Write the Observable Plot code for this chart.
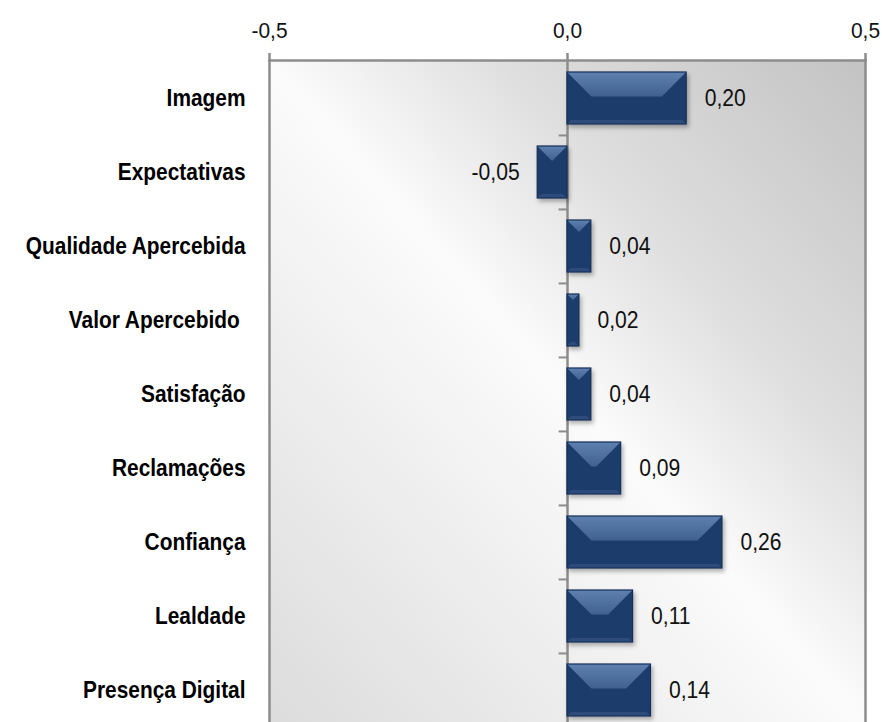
<!DOCTYPE html>
<html><head><meta charset="utf-8">
<script src="https://cdn.jsdelivr.net/npm/d3@7"></script>
<script src="https://cdn.jsdelivr.net/npm/@observablehq/plot@0.6"></script>
<style>body{margin:0;background:#fff;overflow:hidden}</style>
</head><body><div id="chart"></div>
<script>
const categories = ["Imagem","Expectativas","Qualidade Apercebida","Valor Apercebido ","Satisfação","Reclamações","Confiança","Lealdade","Presença Digital"];
const values = [0.20,-0.05,0.04,0.02,0.04,0.09,0.26,0.11,0.14];
const xTicks = [-0.5, 0, 0.5];

const data = categories.map((c,i)=>({cat:c, value:values[i]}));
const fmt = d => d.toFixed(2).replace(".", ",");
const FONT = '"Liberation Sans",Arial,sans-serif';
const W = 882, H = 722, yTop = 60, yBot = 727;
const step = (yBot - yTop) / categories.length;
const NS = "http://www.w3.org/2000/svg";

function bevel(index, scales, vals, dimensions, context, next) {
  const g = next(index, scales, vals, dimensions, context);
  g.setAttribute("filter", "url(#shadow)");
  const rects = Array.from(g.querySelectorAll("rect"));
  for (const r of rects) {
    const x = +r.getAttribute("x"), y = +r.getAttribute("y");
    const w = +r.getAttribute("width"), h = +r.getAttribute("height");
    const b = Math.min(h * 0.47, w / 2);
    const s = Math.min(4, w / 2);
    const top = document.createElementNS(NS, "polygon");
    top.setAttribute("points", `${x},${y} ${x+w},${y} ${x+w-b},${y+b} ${x+b},${y+b}`);
    top.setAttribute("fill", "url(#topGrad)");
    top.setAttribute("stroke", "none");
    const bot = document.createElementNS(NS, "polygon");
    bot.setAttribute("points", `${x},${y+h} ${x+w},${y+h} ${x+w-s},${y+h-s} ${x+s},${y+h-s}`);
    bot.setAttribute("fill", "#2d4c7c");
    bot.setAttribute("stroke", "none");
    const edge = document.createElementNS(NS, "rect");
    for (const a of ["x","y","width","height"]) edge.setAttribute(a, r.getAttribute(a));
    edge.setAttribute("fill", "none");
    edge.setAttribute("stroke", "#152f57");
    edge.setAttribute("stroke-width", "1.2");
    g.appendChild(top); g.appendChild(bot); g.appendChild(edge);
  }
  return g;
}

const chart = Plot.plot({
  width: W, height: H,
  marginLeft: 269, marginRight: 17, marginTop: yTop, marginBottom: 0,
  style: {fontFamily: FONT, background: "#fff", overflow: "hidden"},
  x: {domain: [-0.5, 0.5], range: [269, 865], label: null},
  y: {domain: categories, range: [yTop, yBot], paddingInner: 0.3, paddingOuter: 0.15, label: null},
  marks: [
    Plot.frame({fill: "url(#bg)", stroke: null}),
    Plot.frame({anchor: "left", stroke: "#8c8c8c", strokeWidth: 2.5}),
    Plot.frame({anchor: "right", stroke: "#8c8c8c", strokeWidth: 2.5}),
    Plot.ruleX([0], {stroke: "#8c8c8c", strokeWidth: 2.5}),
    Plot.ruleY(categories.slice(1), {y: d => d, x1: -0.014, x2: 0, dy: -step/2, stroke: "#8c8c8c", strokeWidth: 2}),
    Plot.barX(data, {y: "cat", x1: 0, x2: "value", fill: "#1f3d6c", render: bevel}),
    Plot.text(data.filter(d => d.value >= 0), {y: "cat", x: "value", text: d => fmt(d.value), dx: 18, textAnchor: "start", fontSize: 24, fill: "#111", className: "vals"}),
    Plot.text(data.filter(d => d.value < 0), {y: "cat", x: "value", text: d => fmt(d.value), dx: -18, textAnchor: "end", fontSize: 24, fill: "#111", className: "vals"}),
    Plot.axisX(xTicks, {anchor: "top", label: null, tickFormat: d => d.toFixed(1).replace(".", ","), tickSize: 8, tickPadding: 15, fontSize: 22, stroke: "#8c8c8c", strokeWidth: 2.5, fill: "#111", className: "ticks"}),
    Plot.frame({anchor: "top", stroke: "#8c8c8c", strokeWidth: 2.5}),
    Plot.axisY({anchor: "left", label: null, tickSize: 0, tickPadding: 24, fontSize: 24, fontWeight: "bold", fill: "#000", className: "cats"})
  ]
});
chart.insertAdjacentHTML("afterbegin", `<defs>
<linearGradient id="bg" x1="1" y1="0" x2="0" y2="1">
<stop offset="0" stop-color="#c3c3c3"/><stop offset="0.3" stop-color="#dedede"/>
<stop offset="0.5" stop-color="#fbfbfb"/><stop offset="1" stop-color="#dcdcdc"/></linearGradient>
<linearGradient id="topGrad" x1="0" y1="0" x2="0" y2="1">
<stop offset="0" stop-color="#5f80b0"/><stop offset="1" stop-color="#40628f"/></linearGradient>
<filter id="shadow" x="-20%" y="-20%" width="150%" height="160%">
<feDropShadow dx="2" dy="3" stdDeviation="2" flood-color="#000" flood-opacity="0.3"/></filter>
</defs>`);
document.getElementById("chart").appendChild(chart);
// condense text to mimic a narrow typeface
const squeeze = {cats: 0.87, vals: 0.88, ticks: 0.95};
for (const [cls, f] of Object.entries(squeeze)) {
  chart.querySelectorAll(`g[class*="${cls}"] text`).forEach(t => {
    const len = t.getComputedTextLength();
    if (len > 0) { t.setAttribute("textLength", len * f); t.setAttribute("lengthAdjust", "spacingAndGlyphs"); }
  });
}
</script></body></html>
